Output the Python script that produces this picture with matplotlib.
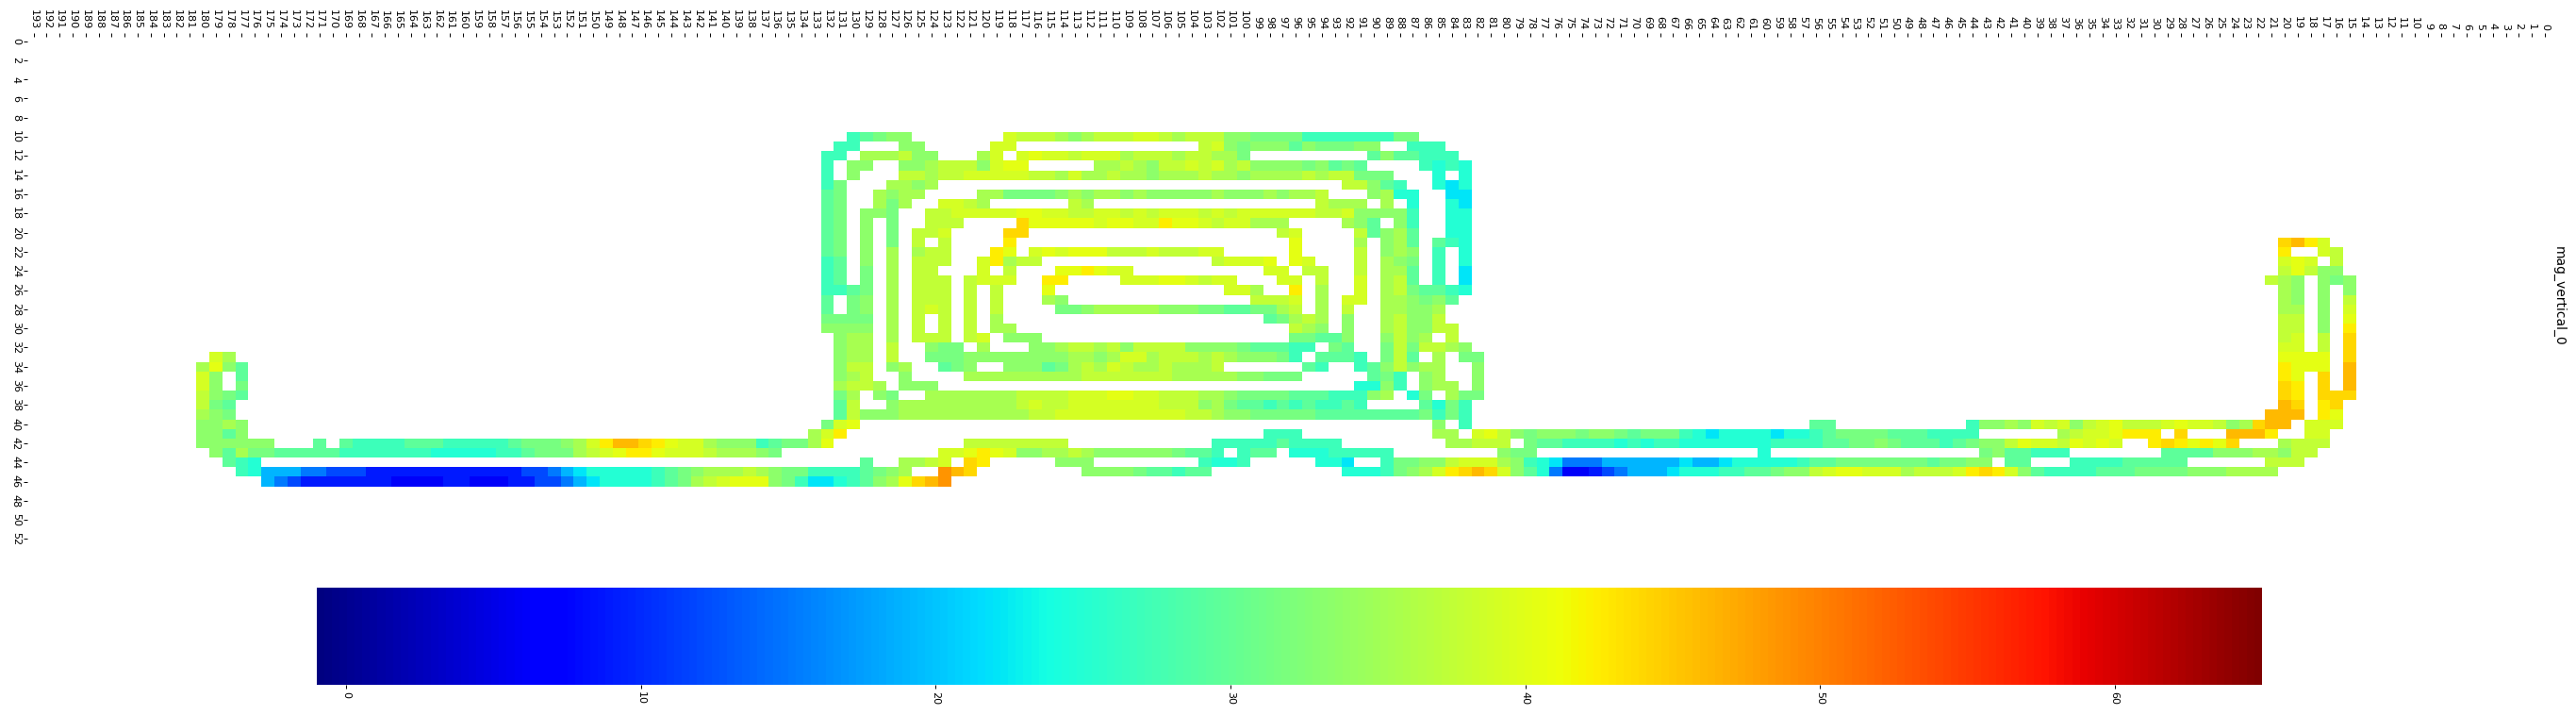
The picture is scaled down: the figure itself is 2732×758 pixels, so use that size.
import numpy as np
import matplotlib
matplotlib.use("Agg")
import matplotlib.pyplot as plt

# one letter per magnitude step
level_codes = "abcdefghijklmnopqrs"
level_values = [6, 9, 12, 15, 19, 22, 25, 27, 29.5, 31.5, 33.5, 35.5, 37.5, 39, 40.5, 42.5, 44, 46, 48.5]

n_cols = 194
n_rows = 53
vmin = -1
vmax = 65
label = "mag_vertical_0"
cbar_ticks = [0, 10, 20, 30, 40, 50, 60]

# each row: (first column, codes going towards lower column numbers)
row_10 = [(130, "hijkk"), (118, "nmmmlklmmmnnmlmmmkkjjjjhhhhhhhjj")]
row_11 = [(131, "hh"), (126, "kk"), (119, "nn"), (103, "mnkjkkkikjjjkk"), (87, "hhh")]
row_12 = [(132, "hh"), (129, "lllmkk"), (120, "ln"), (117, "nonnmnnnlmmmlmmllj"), (90, "ikiihhh")]
row_13 = [(132, "h"), (130, "kk"), (126, "kklmmmknoo"), (111, "llmlkmmnmnlmkkkkjkiji"), (86, "hghg")]
row_14 = [(132, "h"), (130, "k"), (126, "mmlmmnnnnnmmlnllmllklllmllkllllmlmmjjj"), (85, "g"), (83, "g")]
row_15 = [(132, "hj"), (127, "llkl"), (92, "mmkih"), (85, "gfg")]
row_16 = [(132, "ij"), (128, "lkll"), (120, "lljjjjklkllklkkkkklkkklkllm"), (90, "klgg"), (84, "ff")]
row_17 = [(132, "ij"), (128, "ljl"), (123, "nnml"), (113, "ml"), (94, "mlll"), (89, "l"), (87, "g"), (84, "gf")]
row_18 = [(132, "ij"), (129, "kkj"), (124, "mmnnnnnoonnmmnnmnmnnnmnmnnnnnnmmnkkkkh"), (84, "gg")]
row_19 = [(132, "ij"), (129, "k"), (127, "j"), (124, "mmm"), (117, "qooooonoonnpoonmnnlll"), (92, "lki"), (88, "kh"), (84, "gg")]
row_20 = [(132, "ij"), (129, "k"), (127, "j"), (125, "mmn"), (118, "qq"), (97, "mn"), (91, "mikli"), (84, "gg")]
row_21 = [(132, "ij"), (129, "k"), (127, "j"), (125, "m"), (123, "m"), (118, "p"), (96, "o"), (91, "l"), (89, "kli"), (85, "ihg"), (20, "qrpn")]
row_22 = [(132, "ij"), (129, "k"), (127, "l"), (125, "lmm"), (119, "po"), (116, "nonooommmnmmmnn"), (96, "o"), (91, "m"), (89, "klk"), (85, "h"), (83, "g"), (20, "p"), (17, "nm")]
row_23 = [(132, "hi"), (129, "k"), (127, "l"), (125, "mmm"), (120, "nplmm"), (102, "mnnno"), (96, "on"), (91, "m"), (89, "lkj"), (85, "h"), (83, "g"), (20, "non"), (16, "m")]
row_24 = [(132, "hi"), (129, "j"), (127, "l"), (125, "mm"), (120, "n"), (118, "m"), (114, "ooponn"), (98, "nn"), (95, "mm"), (91, "m"), (89, "lli"), (85, "h"), (83, "f"), (20, "momkk")]
row_25 = [(132, "hi"), (129, "j"), (127, "l"), (125, "mmm"), (121, "mnnn"), (115, "pp"), (109, "nnnoonmnn"), (97, "nn"), (94, "m"), (91, "n"), (89, "lmi"), (85, "h"), (83, "f"), (21, "mlk"), (17, "kjk")]
row_26 = [(132, "hhij"), (127, "l"), (125, "mmm"), (121, "m"), (119, "m"), (115, "o"), (101, "nnl"), (96, "p"), (94, "l"), (91, "n"), (89, "lmjiihg"), (20, "lk"), (17, "k"), (15, "k")]
row_27 = [(132, "i"), (130, "jk"), (127, "l"), (125, "mmm"), (121, "m"), (119, "m"), (115, "lk"), (99, "mmmn"), (94, "l"), (92, "nn"), (89, "llkjki"), (20, "lk"), (17, "k"), (15, "m")]
row_28 = [(132, "i"), (130, "jk"), (127, "l"), (125, "mnm"), (121, "m"), (119, "m"), (114, "jjklllllkkkjjiijjlm"), (94, "l"), (92, "m"), (89, "llkkl"), (20, "ll"), (17, "k"), (15, "n")]
row_29 = [(132, "jjjj"), (127, "l"), (125, "m"), (123, "m"), (121, "m"), (119, "l"), (98, "ijlml"), (92, "k"), (89, "lmkkm"), (20, "mm"), (17, "k"), (15, "o")]
row_30 = [(132, "kkkk"), (127, "l"), (125, "m"), (123, "m"), (121, "m"), (119, "ll"), (96, "mlk"), (92, "k"), (89, "lmkkmm"), (20, "mm"), (17, "k"), (15, "p")]
row_31 = [(131, "kll"), (127, "l"), (125, "mmm"), (121, "mn"), (118, "kkk"), (96, "jjiik"), (89, "kmkl"), (84, "m"), (20, "mn"), (17, "m"), (15, "q")]
row_32 = [(131, "kll"), (127, "m"), (124, "kjj"), (120, "l"), (116, "kklmmlmkmmmmkkkkjiiihh"), (93, "ji"), (89, "jmjmmlk"), (20, "nn"), (17, "m"), (15, "q")]
row_33 = [(179, "nl"), (131, "kll"), (127, "m"), (124, "jjj"), (121, "kkkkkkkkllklnnlmmmlmlkkkjh"), (94, "iiih"), (89, "jmi"), (85, "l"), (83, "jj"), (20, "oooo"), (15, "q")]
row_34 = [(180, "loki"), (131, "kmm"), (127, "kl"), (123, "ijk"), (118, "kkkijlmlnmllmlllm"), (95, "ih"), (91, "hikmkll"), (82, "k"), (20, "pooo"), (15, "r")]
row_35 = [(180, "nk"), (177, "i"), (131, "klm"), (126, "k"), (121, "lllllllllmmmmmmmlllllkkjjj"), (90, "ijh"), (86, "kl"), (82, "k"), (20, "po"), (17, "q"), (15, "r")]
row_36 = [(180, "nk"), (177, "j"), (131, "lmml"), (126, "kkk"), (91, "ggkh"), (86, "kll"), (82, "k"), (20, "qp"), (17, "q"), (15, "r")]
row_37 = [(180, "mkji"), (131, "jl"), (128, "kj"), (124, "lllllllmmmmnnnoonnmmmllkjjjjiiihhhkl"), (87, "gj"), (84, "ljj"), (20, "qp"), (17, "qqq")]
row_38 = [(180, "mji"), (131, "im"), (127, "klllllllllmnmmnnnnnnnmmmkljiihihihhih"), (86, "igjh"), (20, "rq"), (17, "pq")]
row_39 = [(180, "lkj"), (131, "imkkkllllllllllmmnnnnnnnnnnmmlkkjjjjjiiiiiiiijhjh"), (21, "rrr"), (17, "po")]
row_40 = [(180, "kklk"), (132, "jno"), (85, "k"), (83, "h"), (56, "ii"), (44, "hkklknmnkmnommmnonnmklqrr"), (18, "nnn")]
row_41 = [(180, "kkik"), (133, "lnp"), (98, "hhh"), (85, "ll"), (82, "nomkjkkkjkkjijjjhgfggggfgghijjjjiiihhhh"), (37, "lmnnoppp"), (28, "q"), (24, "rrrp"), (18, "nn")]
row_42 = [(180, "kkkkkk"), (171, "i"), (169, "ihhhhiiihhhhhijjjklnprrqponnlkkkhijjlo"), (121, "mmmmmmmm"), (102, "hhhhhihhhh"), (84, "llmmm"),
          (78, "jiihhhhghg" "hhgggggggh" "hhhiijjkji" "iihijkkmon" "nmonon"), (30, "pqpopoq"), (20, "lmmm")]
row_43 = [(179, "kiljjiiiii" "hhhhhhh" "ggggg" "hhijjjlmno" "ppon" "nnmlll" "kj"), (123, "nnoponkkllmlkkkkkkjiih"), (100, "hii"), (96, "ggghhhhh"), (80, "kjj"), (60, "g"), (43, "jkiihhh"), (29, "iiiikkkllkmm")]
row_44 = [(178, "ihg"), (129, "i"), (126, "llmn"), (121, "qp"), (114, "kkk"), (103, "hggh"), (94, "ggf"), (89, "hjjkkmnnnlkhgfdddeeeeeefeefggggghiijjjjjjjijjkk"), (41, "ii"), (36, "hhhhiiiii"), (21, "mmm")]
row_45 = [(177, "hgeeeddccc" "bbbbbbbbbbbb" "ccdef" "ggggg" "hijklllmlk" "jjhhhhijkl"), (123, "srq"), (112, "kkkkjiihii"),
          (92, "ggghjklnpqrqnkigdaabcdeeefggghhiijkkmnoonnnlmmmnpqpnkihhhhiiijjjjkkkllll")]
row_46 = [(175, "edcbbbbbbbaaaabbaaabbccdefgggghijlmnoookjhffghikloqrs")]

rows = {10: row_10, 11: row_11, 12: row_12, 13: row_13, 14: row_14, 15: row_15, 16: row_16,
        17: row_17, 18: row_18, 19: row_19, 20: row_20, 21: row_21, 22: row_22, 23: row_23,
        24: row_24, 25: row_25, 26: row_26, 27: row_27, 28: row_28, 29: row_29, 30: row_30,
        31: row_31, 32: row_32, 33: row_33, 34: row_34, 35: row_35, 36: row_36, 37: row_37,
        38: row_38, 39: row_39, 40: row_40, 41: row_41, 42: row_42, 43: row_43, 44: row_44,
        45: row_45, 46: row_46}

grid = np.full((n_rows, n_cols), np.nan)
for r, segments in rows.items():
    for first, codes in segments:
        for k, c in enumerate(codes):
            grid[r, first - k] = level_values[level_codes.index(c)]

W, H = 2732, 758
fig = plt.figure(figsize=(W / 100, H / 100), dpi=100)
ax = fig.add_axes([28.7 / W, 1 - 576.5 / H, (2705.9 - 28.7) / W, (576.5 - 38.5) / H])
cax = fig.add_axes([336 / W, 1 - 726 / H, (2399 - 336) / W, (726 - 623) / H])

cols = np.arange(n_cols + 1) - 0.5
rws = np.arange(n_rows + 1) - 0.5
mesh = ax.pcolormesh(cols, rws, np.ma.masked_invalid(grid), cmap="jet", vmin=vmin, vmax=vmax)
ax.set_xlim(n_cols - 0.5, -0.5)
ax.set_ylim(n_rows - 0.5, -0.5)
for s in ax.spines.values():
    s.set_visible(False)

ax.xaxis.tick_top()
ax.set_xticks(np.arange(n_cols))
ax.set_xticklabels([str(i) for i in range(n_cols)], rotation=270, ha="center", va="bottom", fontsize=8)
ax.set_yticks(np.arange(0, n_rows, 2))
ax.set_yticklabels([str(i) for i in range(0, n_rows, 2)], rotation=270, va="center", ha="right", fontsize=8)
ax.tick_params(axis="both", length=3, width=0.7, pad=2)

cbar = fig.colorbar(mesh, cax=cax, orientation="horizontal")
cbar.outline.set_visible(False)
cbar.set_ticks(cbar_ticks)
cbar.ax.tick_params(length=3, width=0.7, pad=2)
for t in cbar.ax.get_xticklabels():
    t.set_rotation(270)
    t.set_fontsize(8)

fig.text(2714 / W, 1 - 314 / H, label, rotation=270, ha="center", va="center", fontsize=10)

fig.savefig("out.png", dpi=100)
